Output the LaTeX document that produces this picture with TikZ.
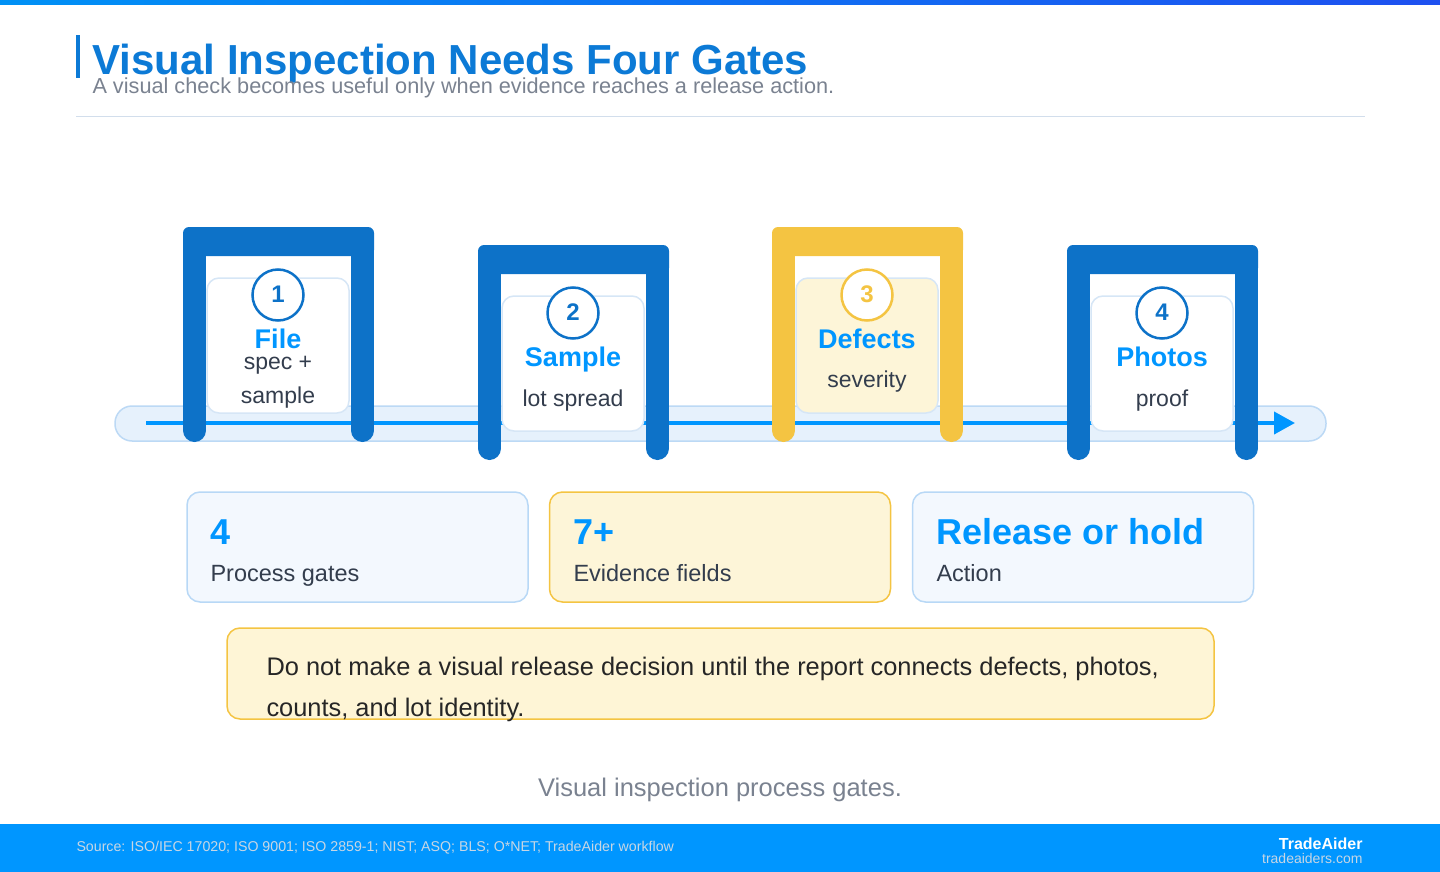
\documentclass[tikz,border=0pt]{standalone}
\usepackage{fontspec}
\setmainfont{Liberation Sans}
\usetikzlibrary{arrows.meta}
\definecolor{barleft}{RGB}{0,145,245}
\definecolor{barright}{RGB}{30,80,240}
\definecolor{titleblue}{RGB}{12,122,214}
\definecolor{gateblue}{RGB}{13,114,200}
\definecolor{gold}{RGB}{244,196,66}
\definecolor{accent}{RGB}{0,150,255}
\definecolor{trackfill}{RGB}{230,241,252}
\definecolor{trackline}{RGB}{188,217,245}
\definecolor{cardline}{RGB}{214,230,246}
\definecolor{cardyellow}{RGB}{253,245,216}
\definecolor{statfill}{RGB}{243,248,254}
\definecolor{statline}{RGB}{184,216,246}
\definecolor{notefill}{RGB}{254,245,214}
\definecolor{inkdark}{RGB}{51,61,77}
\definecolor{inkgray}{RGB}{122,130,144}
\definecolor{rulegray}{RGB}{210,222,236}
\definecolor{footink}{RGB}{200,214,228}
\newcommand\fsz[2]{\fontsize{#1}{#2}\selectfont}
\begin{document}
\begin{tikzpicture}[x=1pt,y=-1pt,line width=1pt,
  lbl/.style={inner sep=0pt,anchor=base},
  lblw/.style={inner sep=0pt,anchor=base west},
  card/.style={draw=cardline,line width=1.5pt,rounded corners=12pt,minimum width=142pt,minimum height=135pt,inner sep=0pt},
  badge/.style={circle,draw,line width=2.5pt,fill=white,minimum size=51pt,inner sep=0pt},
  stat/.style={draw,line width=1.5pt,rounded corners=13pt,minimum width=341pt,minimum height=110pt,inner sep=0pt},
  statnum/.style={lblw,text=accent,font=\fsz{36}{40}\bfseries},
  statlbl/.style={lblw,text=inkdark,font=\fsz{23.5}{28}}]
\useasboundingbox (0,0) rectangle (1440,872);
\shade[left color=barleft,right color=barright] (0,0) rectangle (1440,5);
\fill[titleblue] (76,35) rectangle (80,78);
\node[lblw,text=titleblue,font=\fsz{42}{48}\bfseries] (title) at (92,75) {Visual Inspection Needs Four Gates};
\node[lblw,text=inkgray,font=\fsz{21.7}{24}] (subtitle) at (92,94) {A visual check becomes useful only when evidence reaches a release action.};
\draw[rulegray] (76,117) -- (1365,117);
\draw[fill=trackfill,draw=trackline,line width=1.5pt,rounded corners=17pt] (115,406) rectangle (1326,441);
\coordinate (flowstart) at (146,423);
\coordinate (flowend) at (1295,423);
\draw[accent,line width=4pt,-{Triangle[length=21pt,width=22pt]}] (flowstart) -- (flowend);
\foreach \n/\gx/\gy/\gcol/\cfill/\ttl/\sub/\sy in {
  1/183/227/gateblue/white/File/{spec +\\sample}/403,
  2/478/245/gateblue/white/Sample/lot spread/406,
  3/772/227/gold/cardyellow/Defects/severity/387,
  4/1067/245/gateblue/white/Photos/proof/406}{
  \fill[\gcol,rounded corners=6pt] (\gx,\gy) rectangle ++(191,29);
  \draw[\gcol,line width=23pt,line cap=round] ({\gx+11.5},{\gy+14}) -- ({\gx+11.5},{\gy+203.5});
  \draw[\gcol,line width=23pt,line cap=round] ({\gx+179.5},{\gy+14}) -- ({\gx+179.5},{\gy+203.5});
  \node[card,fill=\cfill] (card\n) at ({\gx+95},{\gy+118.5}) {};
  \node[badge,draw=\gcol] (badge\n) at ({\gx+95},{\gy+68}) {};
  \node[lbl,text=\gcol,font=\fsz{24}{28}\bfseries] (num\n) at ({\gx+95},{\gy+75}) {\n};
  \node[lbl,text=accent,font=\fsz{27}{32}\bfseries] (ttl\n) at ({\gx+95},{\gy+121}) {\ttl};
  \node[lbl,text=inkdark,align=center,font=\fsz{23}{34}] (sub\n) at ({\gx+95},\sy) {\sub};
}
\node[stat,fill=statfill,draw=statline] (statgates) at (357.5,547) {};
\node[stat,fill=cardyellow,draw=gold] (statfields) at (720,547) {};
\node[stat,fill=statfill,draw=statline] (stataction) at (1083,547) {};
\node[statnum] (gatesnum) at (210,544) {4};
\node[statlbl] (gateslbl) at (210,581) {Process gates};
\node[statnum] (fieldsnum) at (573,544) {7+};
\node[statlbl] (fieldslbl) at (573,581) {Evidence fields};
\node[statnum] (actionnum) at (936,544) {Release or hold};
\node[statlbl] (actionlbl) at (936,581) {Action};
\node[draw=gold,fill=notefill,line width=1.5pt,rounded corners=13pt,minimum width=987pt,minimum height=91pt,inner sep=0pt] (note) at (720.5,673.5) {};
\node[lblw,text=black!85,font=\fsz{25.4}{30}] (noteone) at (266,675) {Do not make a visual release decision until the report connects defects, photos,};
\node[lblw,text=black!85,font=\fsz{25.4}{30}] (notetwo) at (266,716) {counts, and lot identity.};
\node[lbl,text=inkgray,font=\fsz{25.5}{30}] (caption) at (720,796) {Visual inspection process gates.};
\fill[accent] (0,824) rectangle (1440,872);
\node[lblw,text=footink,font=\fsz{14.2}{16}] (source) at (76,851) {Source: ISO/IEC 17020; ISO 9001; ISO 2859-1; NIST; ASQ; BLS; O*NET; TradeAider workflow};
\node[inner sep=0pt,anchor=base east,text=white,font=\fsz{16}{18}\bfseries] (brand) at (1363,849) {TradeAider};
\node[inner sep=0pt,anchor=base east,text=footink,font=\fsz{14}{16}] (site) at (1363,863) {tradeaiders.com};
\end{tikzpicture}
\end{document}
